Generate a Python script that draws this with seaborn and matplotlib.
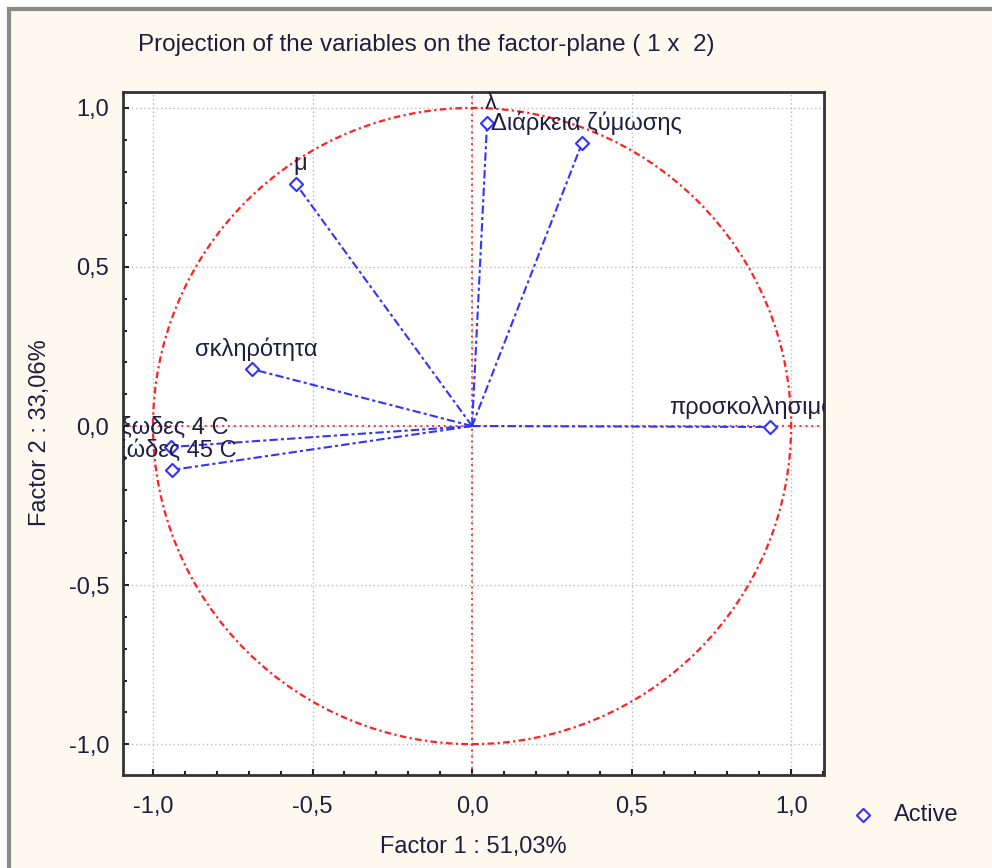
import numpy as np
import pandas as pd
import matplotlib
matplotlib.use("Agg")
import matplotlib.pyplot as plt
from matplotlib.patches import Circle, Rectangle
from matplotlib.ticker import MultipleLocator, FuncFormatter
from matplotlib.transforms import offset_copy
import seaborn as sns

# factor loadings
variables = ["λ", "Διάρκεια ζύμωσης", "μ", "σκληρότητα",
             "ξωδες 4 C", "ξώδες 45 C", "προσκολλησιμότητα"]
factor1 = [0.047, 0.345, -0.552, -0.690, -0.944, -0.940, 0.934]
factor2 = [0.953, 0.890, 0.761, 0.179, -0.066, -0.138, -0.003]

title = "Projection of the variables on the factor-plane ( 1 x  2)"
xlabel = "Factor 1 : 51,03%"
ylabel = "Factor 2 : 33,06%"

sns.set_style("white")
plt.rcParams['font.family'] = ['Liberation Sans', 'DejaVu Sans']

txt = "#1e1e40"
blue = "#3333ff"
cream = "#fef9ee"
fs = 17

fig = plt.figure(figsize=(9.92, 8.68), dpi=100)
fig.patch.set_facecolor("white")
# window frame
fig.patches.append(Rectangle((9/992, -0.01), 1.0, (868-9)/868 + 0.01,
                             transform=fig.transFigure, facecolor=cream,
                             edgecolor="#8a8a8a", lw=3, zorder=-5))

ax = fig.add_axes([123/992, 1-775/868, (824-123)/992, (775-92)/868])
ax.set_facecolor("white")

# vectors from origin
rows = []
for v, x, y in zip(variables, factor1, factor2):
    rows.append({"var": v, "f1": 0.0, "f2": 0.0, "step": 0})
    rows.append({"var": v, "f1": x, "f2": y, "step": 1})
vec = pd.DataFrame(rows)
pts = pd.DataFrame({"var": variables, "f1": factor1, "f2": factor2})

ax.grid(True, which="major", color="#bbbbbb", ls=(0, (1, 2)), lw=1)
ax.axhline(0, color="#ff3333", ls=(0, (1, 2)), lw=1.4, zorder=1)
ax.axvline(0, color="#ff3333", ls=(0, (1, 2)), lw=1.4, zorder=1)
ax.add_patch(Circle((0, 0), 1.0, fill=False, ec="#ff2020",
                    ls=(0, (3, 1.5, 1, 1.5)), lw=1.6, zorder=2))

sns.lineplot(data=vec, x="f1", y="f2", units="var", estimator=None,
             sort=False, color=blue, lw=1.5, ax=ax, zorder=3,
             dashes=False, linestyle=(0, (4, 1.5, 1.5, 1.5)))
sns.scatterplot(data=pts, x="f1", y="f2", marker="D", s=45,
                facecolor="white", edgecolor=blue, linewidth=1.5,
                ax=ax, zorder=4, label="Active")

lab_tr = offset_copy(ax.transData, fig=fig, x=3, y=14, units="points")
for v, x, y in zip(variables, factor1, factor2):
    ax.text(x, y, v, transform=lab_tr, ha="center", va="center",
            fontsize=fs, color=txt, clip_on=True, zorder=5)

ax.set_xlim(-1.094, 1.103)
ax.set_ylim(-1.097, 1.050)
ax.xaxis.set_major_locator(MultipleLocator(0.5))
ax.yaxis.set_major_locator(MultipleLocator(0.5))
ax.xaxis.set_minor_locator(MultipleLocator(0.1))
ax.yaxis.set_minor_locator(MultipleLocator(0.1))
fmt = FuncFormatter(lambda v, p: f"{v:.1f}".replace(".", ",").replace("-0,0", "0,0"))
ax.xaxis.set_major_formatter(fmt)
ax.yaxis.set_major_formatter(fmt)
ax.tick_params(which="both", direction="in", color="#222222", labelcolor=txt,
               labelsize=fs, bottom=True, left=True)
ax.tick_params(which="major", length=4, width=1.5)
ax.tick_params(which="minor", length=3, width=1.5)
ax.tick_params(axis="x", pad=15)
ax.tick_params(axis="y", pad=10)
for s in ax.spines.values():
    s.set_color("#333333")
    s.set_linewidth(2)
ax.set_xlabel("")
ax.set_ylabel("")

leg = ax.legend(loc="center left", bbox_to_anchor=(818/992, 1-815/868),
                bbox_transform=fig.transFigure, frameon=False,
                fontsize=fs, handletextpad=0.3, labelcolor=txt)

fig.text(426/992, 1-45/868, title, ha="center", va="center",
         fontsize=17.5, color=txt)
fig.text(473/992, 1-847/868, xlabel, ha="center", va="center",
         fontsize=fs, color=txt)
fig.text(40/992, 1-433/868, ylabel, ha="center", va="center",
         rotation=90, fontsize=fs, color=txt)

fig.savefig("out.png", dpi=100, facecolor=fig.get_facecolor())
